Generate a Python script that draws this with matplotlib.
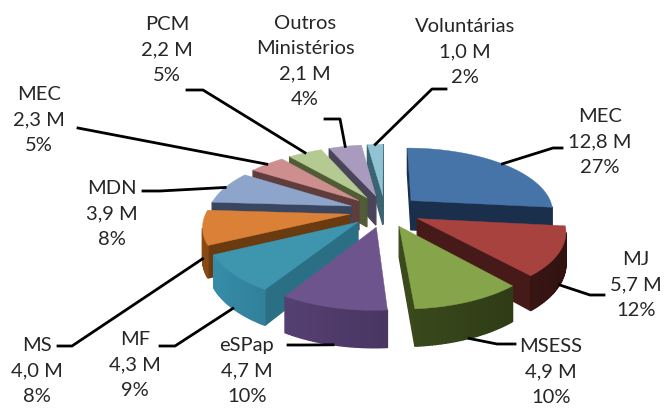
import numpy as np
import matplotlib
matplotlib.use('Agg')
import matplotlib.pyplot as plt
from matplotlib.patches import Polygon
from matplotlib.colors import to_rgb

plt.rcParams['font.family'] = ['Lato', 'DejaVu Sans']

# data
names = ['MEC', 'MJ', 'MSESS', 'eSPap', 'MF', 'MS', 'MDN', 'MEC', 'PCM', 'Outros\nMinistérios', 'Voluntárias']
values = [12.8, 5.7, 4.9, 4.7, 4.3, 4.0, 3.9, 2.3, 2.2, 2.1, 1.0]
value_labels = ['12,8 M', '5,7 M', '4,9 M', '4,7 M', '4,3 M', '4,0 M', '3,9 M', '2,3 M', '2,2 M', '2,1 M', '1,0 M']
pct_labels = ['27%', '12%', '10%', '10%', '9%', '8%', '8%', '5%', '5%', '4%', '2%']

# colours
top_cols = ['#4674A8', '#A8423F', '#86A44A', '#6E548D', '#3D96AE', '#DA8137', '#8EA5CB', '#CE8E8D', '#B5CA92', '#A99BBD', '#91C3D5']
wall_cols = ['#1A2F4C', '#451A18', '#3A4A1C', '#4A3763', '#2B6F85', '#6A3A10', '#3A4560', '#5E3D3C', '#4F5C36', '#4A4459', '#3A6472']

# label layout (x, y of first line)
label_x = [600, 636, 551, 247, 135, 37, 112, 39, 167, 305, 465]
label_y = [115, 258, 345, 344, 338, 344, 187, 93, 23, 22, 25]
# leader elbows
elbow_a = [(553, 149), (590, 296), (497, 345), (305, 346), (175, 347), (72, 347), (160, 192), (78, 129), (203, 91), (340, 120), (432, 90)]
elbow_b = [(562, 149), (604, 296), (515, 345), (288, 346), (160, 347), (58, 347), (143, 192), (78, 129), (187, 91), (325, 120), (446, 90)]
leader_z = [0, 1, 1, 1, 1, 1, 0, 0, 0, 0, 0]

# pie geometry
cx, cy = 385, 212
rx, ry = 143, 64
persp = 0.16
explode = 0.25
depth = 30


def project(x, y, z=0):
    s = 1 / (1 - persp * y)
    return cx + rx * x * s, cy + ry * y * s + depth * z * s


def shade(col, f):
    return tuple(min(1, c * f) for c in to_rgb(col))


fig = plt.figure(figsize=(6.64, 4.10), dpi=100)
ax = fig.add_axes([0, 0, 1, 1])
ax.set_xlim(0, 664)
ax.set_ylim(410, 0)
ax.axis('off')

fractions = np.array(values) / sum(values)
edges = np.concatenate([[0], np.cumsum(fractions)]) * 2 * np.pi
mids = (edges[:-1] + edges[1:]) / 2


def slice_xy(i, r, th):
    m = mids[i]
    return explode * np.sin(m) + r * np.sin(th), -(explode * np.cos(m) + r * np.cos(th))


def draw_wall(pa, pb, col, zo):
    q = [project(*pa, 0), project(*pb, 0), project(*pb, 1), project(*pa, 1)]
    q_arr = np.array(q)
    # area sign, only walls facing the viewer (y axis points down here)
    area = np.sum(q_arr[:, 0] * np.roll(q_arr[:, 1], -1) - np.roll(q_arr[:, 0], -1) * q_arr[:, 1])
    if area < 0:
        ax.add_patch(Polygon(q, closed=True, fc=col, ec=col, lw=1.0, zorder=zo))


order = sorted(range(len(values)), key=lambda i: -np.cos(mids[i]))
for n, i in enumerate(order):
    zo = 2 + n
    ths = np.linspace(edges[i], edges[i + 1], 40)
    apex = slice_xy(i, 0, 0)
    rim = [slice_xy(i, 1, t) for t in ths]
    # clockwise seen from above: apex -> first rim, the rim itself, last rim -> apex
    draw_wall(apex, rim[0], wall_cols[i], zo)
    draw_wall(rim[-1], apex, wall_cols[i], zo)
    for k in range(len(rim) - 1):
        t = (ths[k] + ths[k + 1]) / 2
        draw_wall(rim[k], rim[k + 1], shade(wall_cols[i], 1.0 - 0.3 * np.sin(t)), zo)
    top = [project(*apex)] + [project(*p) for p in rim]
    ax.add_patch(Polygon(top, closed=True, fc=top_cols[i], ec=top_cols[i], lw=0.3, zorder=zo + 0.5))

# labels and leaders
for i in range(len(values)):
    txt = names[i] + '\n' + value_labels[i] + '\n' + pct_labels[i]
    ax.text(label_x[i], label_y[i] - 7, txt, ha='center', va='top', fontsize=14.5, color='#262626',
            linespacing=1.6, zorder=50)
    sx, sy = project(*slice_xy(i, 1, mids[i]), leader_z[i])
    ax.plot([sx, elbow_a[i][0], elbow_b[i][0]], [sy, elbow_a[i][1], elbow_b[i][1]], color='black',
            lw=2, solid_joinstyle='round', zorder=40)

fig.savefig('out.png', dpi=100)
